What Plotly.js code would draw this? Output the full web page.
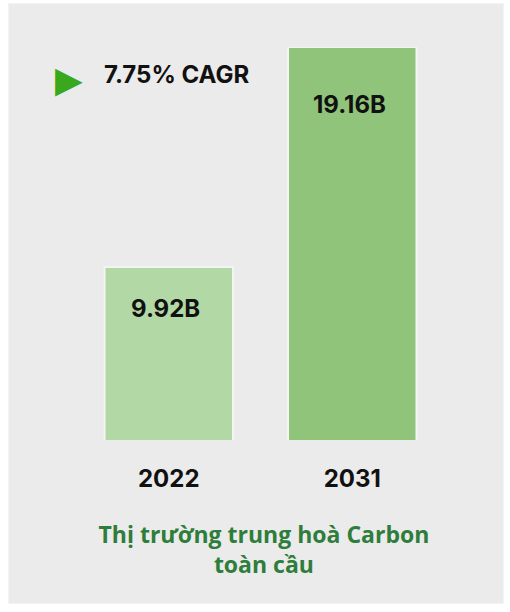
<!DOCTYPE html>
<html>
<head>
<meta charset="utf-8">
<script src="https://cdn.plot.ly/plotly-3.0.1.min.js"></script>
<style>
  html, body { margin: 0; padding: 0; background: #ffffff; }
  #wrap { position: absolute; left: 0; top: 0; width: 510px; height: 612px; background: #ffffff; }
  #chart { position: absolute; left: 9px; top: 4px; width: 494px; height: 599px; box-shadow: 0 0 0 1px #f3f3f3; }
</style>
</head>
<body>
<div id="wrap"><div id="chart"></div></div>
<script>
// ---- data ----
const years = ["2022", "2031"];
const marketValues = [9.92, 19.16];            // billions USD
const valueLabels = ["9.92B", "19.16B"];
const cagrText = "7.75% CAGR";
const chartTitle = "Thị trường trung hoà Carbon<br>toàn cầu";

// ---- styles ----
const barColors = ["#b2d9a5", "#90c47b"];
const labelShift = [-25, -41];
const font = "Inter, 'DejaVu Sans', sans-serif";

const trace = {
  type: "bar",
  x: years,
  y: marketValues,
  marker: { color: barColors, line: { color: "#f4f4f4", width: 2 } },
  hoverinfo: "skip"
};

const annotations = years.map((yr, i) => ({
  x: i, y: marketValues[i], xref: "x", yref: "y",
  text: "<b>" + valueLabels[i] + "</b>",
  showarrow: false, yanchor: "top", xanchor: "center",
  yshift: labelShift[i], xshift: -3,
  font: { family: font, size: 24, color: "#111111" }
}));

annotations.push({
  xref: "paper", yref: "paper", x: 0.068, y: 0.93,
  xanchor: "left", yanchor: "middle", showarrow: false,
  text: "<b>" + cagrText + "</b>",
  font: { family: font, size: 24, color: "#111111" }
});
annotations.push({
  xref: "paper", yref: "paper", x: -0.022, y: 0.918,
  xanchor: "center", yanchor: "middle", showarrow: false,
  text: "▶",
  font: { family: "'DejaVu Sans', sans-serif", size: 36, color: "#3aa81c" }
});

const layout = {
  width: 494, height: 599,
  margin: { l: 67.5, r: 58.5, t: 43, b: 163 },
  paper_bgcolor: "#ebebeb",
  plot_bgcolor: "rgba(0,0,0,0)",
  bargap: 0.3,
  showlegend: false,
  title: {
    text: "<b>" + chartTitle + "</b>",
    x: 0.516, xref: "container", xanchor: "center",
    y: 0.1, yref: "container", yanchor: "middle",
    font: { family: "'Open Sans', Lato, sans-serif", size: 23, color: "#2e7d3b" }
  },
  xaxis: {
    type: "category",
    range: [-0.5, 1.5],
    showgrid: false, zeroline: false, showline: false,
    ticks: "",
    ticklabelstandoff: 22,
    tickfont: { family: font, size: 24, color: "#111111", weight: "bold" }
  },
  yaxis: {
    range: [2.65, 19.16],
    showticklabels: false, ticks: "",
    showgrid: false, zeroline: false, showline: false
  },
  annotations: annotations
};

Plotly.newPlot("chart", [trace], layout, { staticPlot: true, displayModeBar: false });
</script>
</body>
</html>
